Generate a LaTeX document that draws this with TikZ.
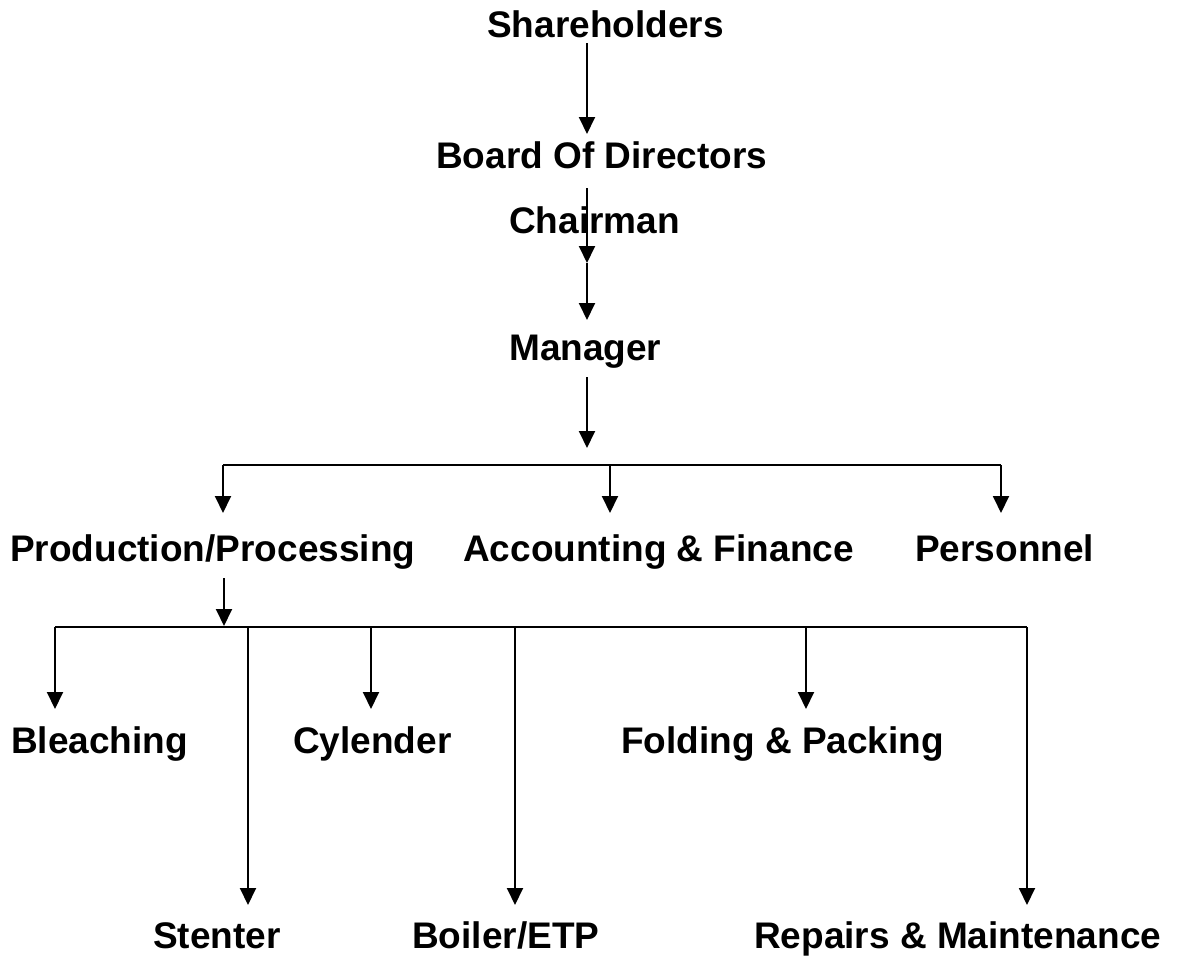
\documentclass[tikz,border=0pt]{standalone}
\usepackage{fontspec}
\setmainfont{Liberation Sans}
\usetikzlibrary{arrows.meta}
\begin{document}
\begin{tikzpicture}[x=1pt,y=-1pt,
  lbl/.style={anchor=base west,inner sep=0pt,font=\fontsize{37}{40}\selectfont\bfseries},
  conn/.style={line width=1.9pt,draw=black},
  arr/.style={conn,-{Triangle[length=17pt,width=16pt]}}]
\useasboundingbox[fill=white] (0,0) rectangle (1187,962);
% labels
\node[lbl] (sh) at (487,37) {Shareholders};
\node[lbl] (bod) at (436,168) {Board Of Directors};
\node[lbl] (ch) at (509,233) {Chairman};
\node[lbl] (mg) at (509,360) {Manager};
\node[lbl] (pp) at (10,561) {Production/Processing};
\node[lbl] (af) at (463,561) {Accounting \& Finance};
\node[lbl] (pe) at (915,561) {Personnel};
\node[lbl] (bl) at (11,753) {Bleaching};
\node[lbl] (cy) at (293,753) {Cylender};
\node[lbl] (fp) at (621,753) {Folding \& Packing};
\node[lbl] (st) at (153,948) {Stenter};
\node[lbl] (bo) at (412,948) {Boiler/ETP};
\node[lbl] (rm) at (754,948) {Repairs \& Maintenance};
% coordinates
\coordinate (a1s) at (587,43);
\coordinate (a1e) at (587,134);
\coordinate (a2s) at (587,188);
\coordinate (a2e) at (587,263);
\coordinate (a3e) at (587,320);
\coordinate (a4s) at (587,377);
\coordinate (a4e) at (587,448);
\coordinate (h1l) at (223,465);
\coordinate (h1m) at (610,465);
\coordinate (h1r) at (1001,465);
\coordinate (d1l) at (223,513);
\coordinate (d1m) at (610,513);
\coordinate (d1r) at (1001,513);
\coordinate (p1s) at (224,578);
\coordinate (p1e) at (224,626);
\coordinate (h2l) at (55,627);
\coordinate (h2r) at (1027,627);
% top chain
\draw[arr] (a1s) -- (a1e);
\draw[arr] (a2s) -- (a2e);
\draw[arr] (a2e) -- (a3e);
\draw[arr] (a4s) -- (a4e);
% first split
\draw[conn] (h1l) -- (h1r);
\draw[arr] (h1l) -- (d1l);
\draw[arr] (h1m) -- (d1m);
\draw[arr] (h1r) -- (d1r);
% second split
\draw[arr] (p1s) -- (p1e);
\draw[conn] (h2l) -- (h2r);
\foreach \x/\y in {55/709,248/905,371/709,515/905,806/709,1027/905}{
  \draw[arr] (\x,627) -- (\x,\y);
}
\end{tikzpicture}
\end{document}
